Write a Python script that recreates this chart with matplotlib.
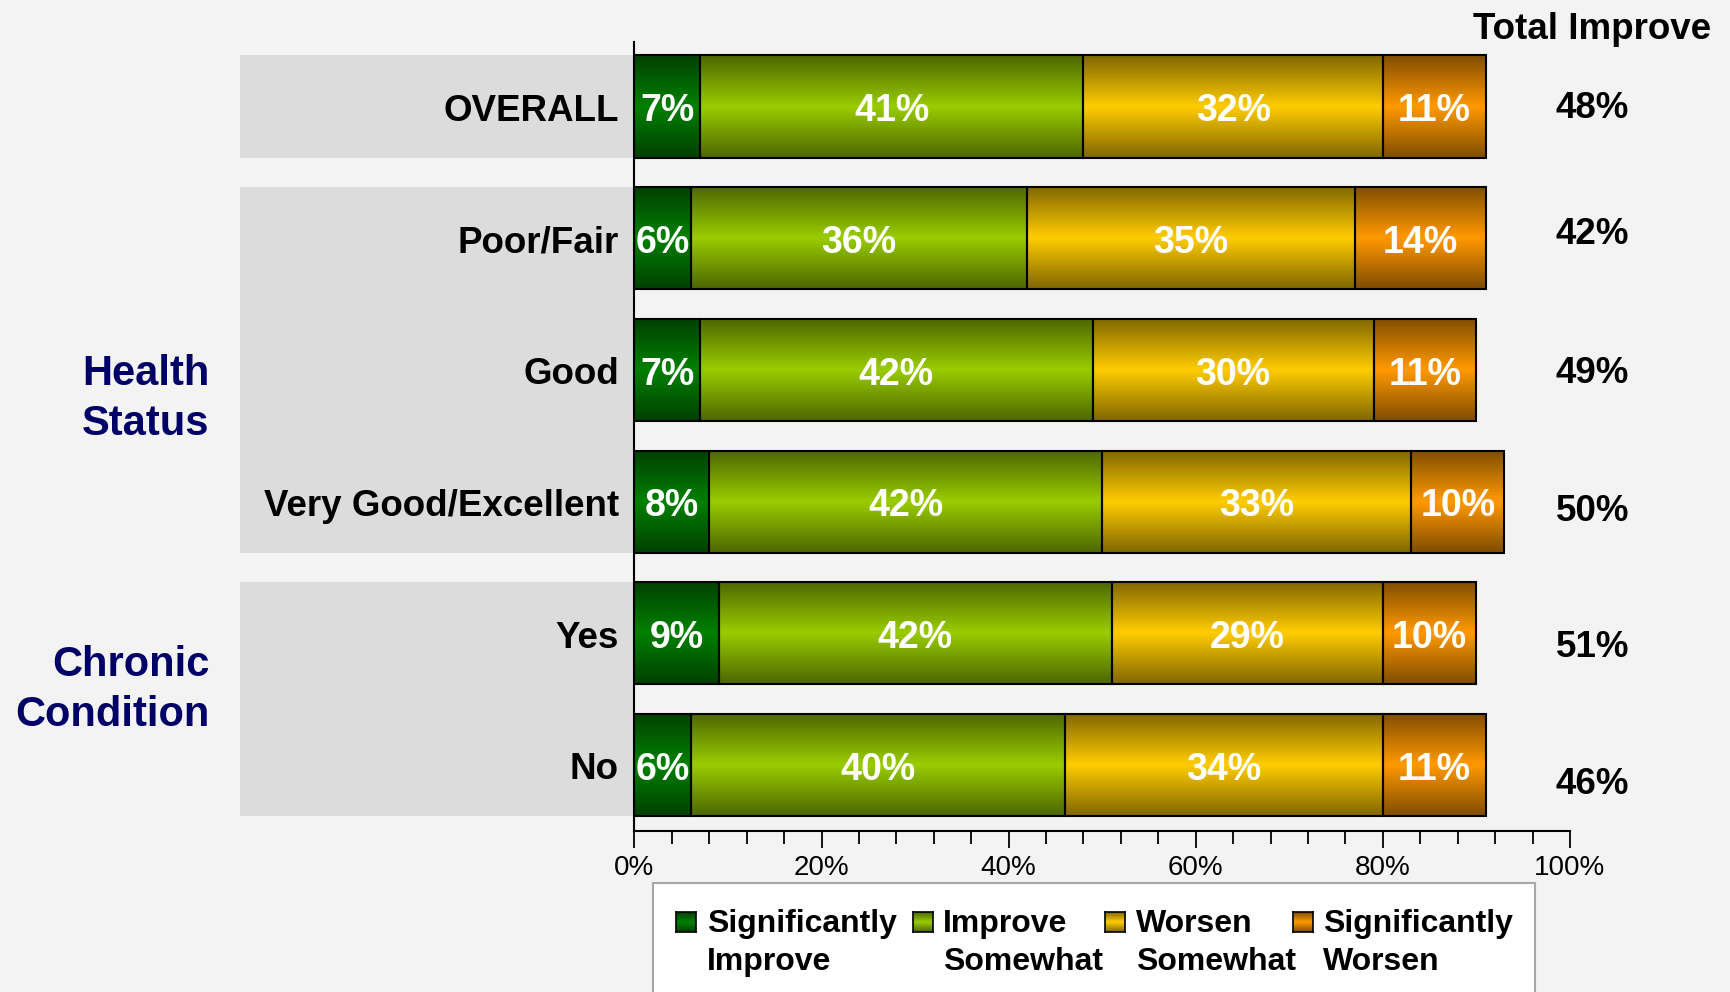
import numpy as np
import matplotlib
matplotlib.use('Agg')
import matplotlib.pyplot as plt
from matplotlib.colors import LinearSegmentedColormap, to_rgb
from matplotlib.patches import Rectangle
from matplotlib.ticker import MultipleLocator
from matplotlib.transforms import blended_transform_factory

plt.rcParams['font.family'] = ['Liberation Sans', 'DejaVu Sans']

# data
rows = ['OVERALL', 'Poor/Fair', 'Good', 'Very Good/Excellent', 'Yes', 'No']
sig_improve = [7, 6, 7, 8, 9, 6]
improve_somewhat = [41, 36, 42, 42, 42, 40]
worsen_somewhat = [32, 35, 30, 33, 29, 34]
sig_worsen = [11, 14, 11, 10, 10, 11]
series_labels = ['Significantly\nImprove', 'Improve\nSomewhat', 'Worsen\nSomewhat', 'Significantly\nWorsen']
series_colors = ['#008000', '#99cc00', '#ffcc00', '#ff9900']
groups = [('', 0, 0), ('Health\nStatus', 1, 3), ('Chronic\nCondition', 4, 5)]

series = [sig_improve, improve_somewhat, worsen_somewhat, sig_worsen]
totals = [a + b for a, b in zip(sig_improve, improve_somewhat)]

BG = '#f3f3f3'
BAND = '#dcdcdc'
NAVY = '#000066'
bar_h = 0.775
txt_dy = 0.035  # nudge text down a little so it sits in the middle of the bars


def shade_cmap(c):
    rgb = np.array(to_rgb(c))
    return LinearSegmentedColormap.from_list('', [rgb * 0.5, rgb])


# vertical profile: dark at edges, bright in the middle
u = np.linspace(0, 1, 200)
grad = (1 - np.abs(2 * u - 1)).reshape(-1, 1)

fig = plt.figure(figsize=(17.3, 9.92), dpi=100, facecolor=BG)
ax = fig.add_axes([0.3667, 0.1623, 0.5408, 0.7954])
ax.set_facecolor(BG)

for i in range(len(rows)):
    left = 0
    for j, vals in enumerate(series):
        w = vals[i]
        ax.imshow(grad, cmap=shade_cmap(series_colors[j]), aspect='auto',
                  extent=(left, left + w, i + bar_h / 2, i - bar_h / 2),
                  interpolation='bilinear', zorder=2)
        ax.barh(i, w, left=left, height=bar_h, facecolor='none',
                edgecolor='black', linewidth=1.5, zorder=3)
        ax.text(left + w / 2, i + txt_dy, f'{w}%', ha='center', va='center',
                color='white', fontsize=27, fontweight='bold', zorder=4)
        left += w

ax.set_xlim(0, 100)
ax.set_ylim(5.5, -0.49)
ax.set_aspect('auto')

# axes styling
for s in ['top', 'right']:
    ax.spines[s].set_visible(False)
for s in ['left', 'bottom']:
    ax.spines[s].set_linewidth(1.5)
ax.set_xticks(range(0, 101, 20))
ax.set_xticklabels([f'{v}%' for v in range(0, 101, 20)], fontsize=20)
ax.xaxis.set_minor_locator(MultipleLocator(4))
ax.tick_params(axis='x', which='major', length=12, width=1.3, pad=5)
ax.tick_params(axis='x', which='minor', length=9, width=1.3)
ax.tick_params(axis='y', left=False, labelleft=False)

# gray bands and row labels on the left
trans = blended_transform_factory(ax.transAxes, ax.transData)
for name, a, b in groups:
    ax.add_patch(Rectangle((-0.422, a - bar_h / 2), 0.422, b - a + bar_h,
                           transform=trans, clip_on=False, facecolor=BAND,
                           edgecolor='none', zorder=0))
for i, r in enumerate(rows):
    ax.text(-0.0165, i + txt_dy, r, transform=trans, ha='right', va='center',
            fontsize=26.5, fontweight='bold', color='black')

group_label_y = [None, 2.22, 4.43]
for (name, a, b), gy in zip(groups, group_label_y):
    if name:
        ax.text(-0.454, gy, name, transform=trans, ha='right', va='center',
                fontsize=30, fontweight='bold', color=NAVY, linespacing=1.32)

# total improve column
total_dy = [-0.02, -0.06, -0.01, 0.04, 0.07, 0.11]
ax.text(102.4, -0.62 + txt_dy, 'Total Improve', ha='center', va='center',
        fontsize=26.5, fontweight='bold', clip_on=False)
for i, t in enumerate(totals):
    ax.text(102.4, i + total_dy[i] + txt_dy, f'{t}%', ha='center', va='center',
            fontsize=26.5, fontweight='bold', clip_on=False)

# legend box
W, H = 1730, 992
fig.patches.append(Rectangle((653 / W, -0.02), (1535 - 653) / W, 0.02 + 1 - 883 / H,
                             transform=fig.transFigure, facecolor='white',
                             edgecolor='#a6a6a6', linewidth=1.5, zorder=-1))
handle_x = [676, 913, 1105, 1293]
text_x = [707, 943, 1136, 1323]
for j, lab in enumerate(series_labels):
    hax = fig.add_axes([handle_x[j] / W, 1 - 932 / H, 20 / W, 20 / H])
    hax.set_zorder(5)
    hax.imshow(grad, cmap=shade_cmap(series_colors[j]), aspect='auto',
               interpolation='bilinear')
    hax.set_xticks([])
    hax.set_yticks([])
    for s in hax.spines.values():
        s.set_linewidth(1.2)
    fig.text(text_x[j] / W, 1 - 943 / H, lab, ha='left', va='center',
             fontsize=23, fontweight='bold', linespacing=1.35)

fig.savefig('out.png', dpi=100, facecolor=BG)
